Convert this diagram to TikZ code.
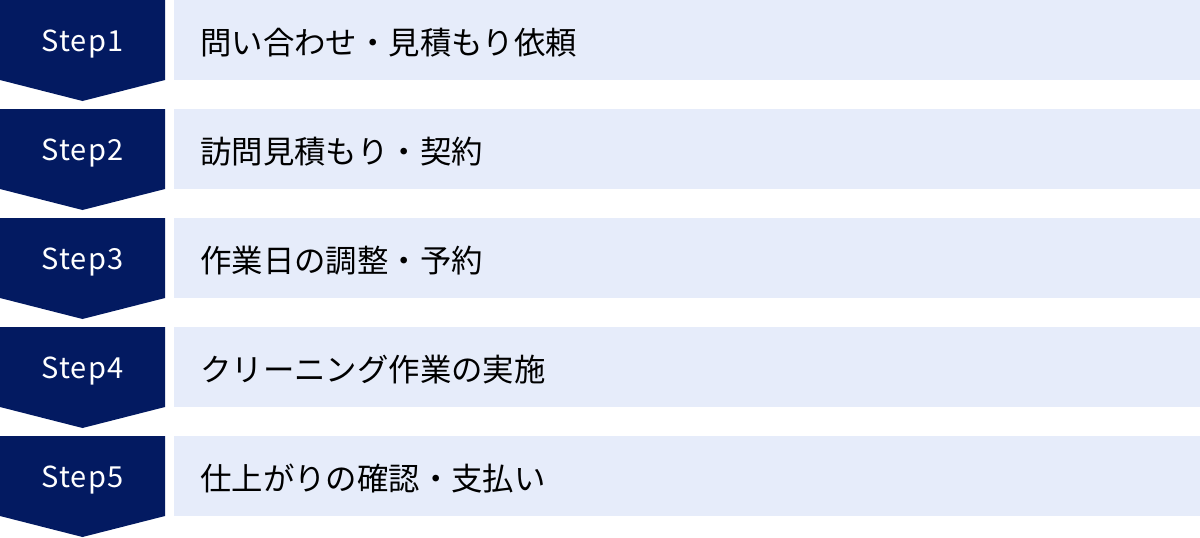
\documentclass[tikz,border=0pt]{standalone}
\usepackage{fontspec}
\setmainfont{Noto Sans CJK JP}
\newfontfamily\stepfont[LetterSpace=3.5]{Noto Sans CJK JP}
\definecolor{navy}{HTML}{031A61}
\definecolor{pale}{HTML}{E6ECFA}
\begin{document}
\begin{tikzpicture}[x=1pt,y=-1pt,
  stepshape/.style={fill=navy,draw=none},
  barbox/.style={fill=pale,draw=none},
  steplabel/.style={anchor=base,text=white,font=\stepfont\fontsize{29}{34}\selectfont,inner sep=0pt},
  barlabel/.style={anchor=base west,text=black,font=\fontsize{31.4}{36}\selectfont,inner sep=0pt}]
\useasboundingbox (0,0) rectangle (1200,538);
\foreach \i/\t in {0/問い合わせ・見積もり依頼,1/訪問見積もり・契約,2/作業日の調整・予約,3/クリーニング作業の実施,4/仕上がりの確認・支払い}{
  \pgfmathsetmacro{\yy}{109*\i}
  \pgfmathtruncatemacro{\n}{\i+1}
  \fill[stepshape] (0,\yy) -- (165,\yy) -- (165,\yy+80) -- (82.5,\yy+101) -- (0,\yy+80) -- cycle;
  \fill[barbox] (174,\yy) rectangle (1200,\yy+80);
  \node[steplabel] (s\n) at (82.5,\yy+51.5) {Step\n};
  \node[barlabel] (t\n) at (200,\yy+54) {\t};
}
\end{tikzpicture}
\end{document}
